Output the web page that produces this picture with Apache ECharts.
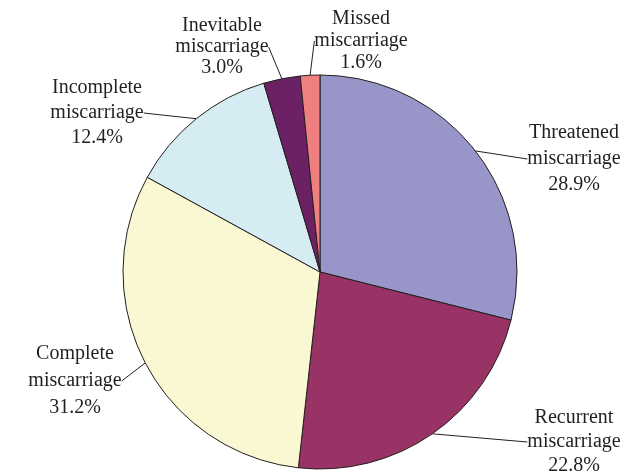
<!DOCTYPE html>
<html>
<head>
<meta charset="utf-8">
<script src="https://cdn.jsdelivr.net/npm/echarts@6/dist/echarts.min.js"></script>
<style>html,body{margin:0;padding:0;background:#fff;}#c{width:627px;height:476px;}</style>
</head>
<body>
<div id="c"></div>
<script>
const categories = ["Threatened\nmiscarriage", "Recurrent\nmiscarriage", "Complete\nmiscarriage", "Incomplete\nmiscarriage", "Inevitable\nmiscarriage", "Missed\nmiscarriage"];
const values = [28.9, 22.8, 31.2, 12.4, 3.0, 1.6];
const percentLabels = ["28.9%", "22.8%", "31.2%", "12.4%", "3.0%", "1.6%"];
const colors = ["#9896C9", "#993366", "#FAF8D2", "#D5ECF3", "#6B2163", "#F08080"];

const labelPos = [
  {x: 574, y: 159, lh: 26},
  {x: 574, y: 442, lh: 24},
  {x: 75, y: 381, lh: 27},
  {x: 97, y: 113, lh: 25},
  {x: 222, y: 47, lh: 21},
  {x: 361, y: 41, lh: 22}
];

const chart = echarts.init(document.getElementById('c'), null, {renderer: 'canvas'});
chart.setOption({
  animation: false,
  series: [{
    type: 'pie',
    center: [320, 272],
    radius: 197,
    startAngle: 90,
    clockwise: true,
    data: categories.map((c, i) => ({
      name: c, value: values[i],
      itemStyle: {color: colors[i]},
      label: {formatter: c + '\n' + percentLabels[i], lineHeight: labelPos[i].lh}
    })),
    itemStyle: {borderColor: '#231F20', borderWidth: 1},
    label: {
      show: true,
      position: 'outside',
      fontFamily: 'Liberation Serif',
      fontSize: 20,
      lineHeight: 24,
      color: '#231F20',
      align: 'center'
    },
    labelLine: {show: true, lineStyle: {color: '#231F20', width: 1}, length: 0, length2: 0},
    labelLayout: function (p) {
      const pos = labelPos[p.dataIndex];
      return {x: pos.x, y: pos.y, align: 'center', verticalAlign: 'middle'};
    },
    emphasis: {disabled: true}
  }]
});
</script>
</body>
</html>
